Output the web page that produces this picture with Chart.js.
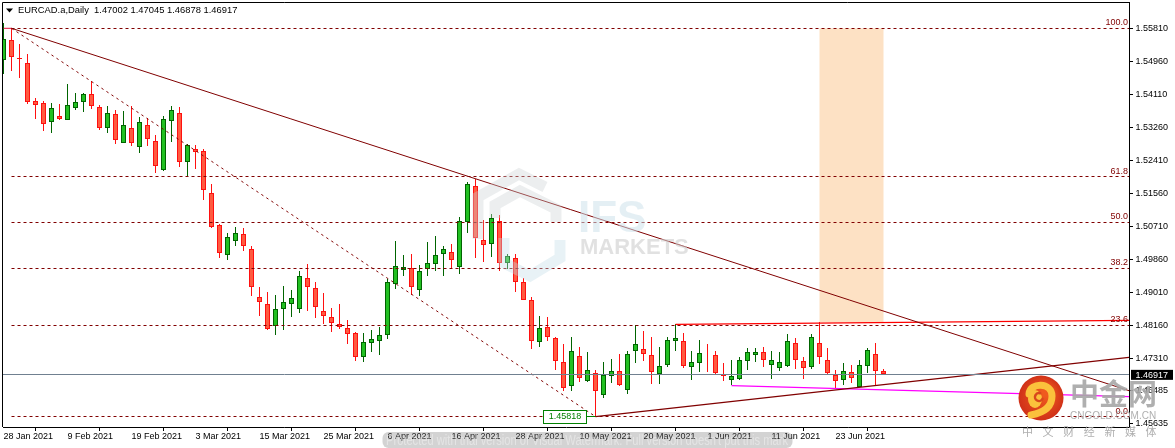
<!DOCTYPE html>
<html>
<head>
<meta charset="utf-8">
<title>EURCAD.a,Daily</title>
<script src="https://cdn.jsdelivr.net/npm/chart.js@4"></script>
<style>
    html, body { margin: 0; padding: 0; background: #fff; overflow: hidden; }
    canvas { display: block; }
</style>
</head>
<body>
<canvas id="myChart" width="1175" height="448"></canvas>
<script>
const opens = [
    1.54986, 1.55509, 1.55058, 1.54909, 1.53931, 1.53880, 1.53406, 1.53545, 1.53442, 1.53766,
    1.53905, 1.54111, 1.53777, 1.53252, 1.53596, 1.52850, 1.53236, 1.52747, 1.53313, 1.52902,
    1.52171, 1.53416, 1.53622, 1.52361, 1.52696, 1.52644, 1.51563, 1.50740, 1.49983, 1.50328,
    1.50508, 1.50122, 1.48887, 1.48707, 1.48141, 1.48578, 1.48707, 1.48578, 1.49376, 1.49119,
    1.48527, 1.48372, 1.48192, 1.48089, 1.47961, 1.47343, 1.47703, 1.47755, 1.47909, 1.49222,
    1.49582, 1.49633, 1.49067, 1.49608, 1.49736, 1.49994, 1.50045, 1.49675, 1.50817, 1.51744,
    1.50354, 1.50251, 1.50843, 1.49762, 1.49891, 1.49273, 1.48810, 1.47729, 1.48115, 1.47832,
    1.47214, 1.46597, 1.47369, 1.46725, 1.46931, 1.46365, 1.46854, 1.46983, 1.46494, 1.47497,
    1.47549, 1.47394, 1.46905, 1.47137, 1.47755, 1.47755, 1.47086, 1.47188, 1.47428, 1.47394,
    1.46880, 1.46751, 1.46777, 1.47240, 1.47394, 1.47472, 1.47137, 1.47060, 1.47111, 1.47703,
    1.47240, 1.47086, 1.47703, 1.47265, 1.46880, 1.46751, 1.46957, 1.46571, 1.47111, 1.47420,
    1.47002
];
const highs = [
    1.55946, 1.55805, 1.55406, 1.55148, 1.54016, 1.53939, 1.53887, 1.53862, 1.54376, 1.54145,
    1.54152, 1.54461, 1.53836, 1.53802, 1.53699, 1.53681, 1.53802, 1.53527, 1.53501, 1.53064,
    1.53545, 1.53802, 1.53784, 1.52824, 1.52806, 1.52696, 1.51803, 1.50761, 1.50542, 1.50696,
    1.50670, 1.50207, 1.49152, 1.49016, 1.48946, 1.49178, 1.49075, 1.49564, 1.49744, 1.49281,
    1.48998, 1.48612, 1.48715, 1.48303, 1.47986, 1.47968, 1.48045, 1.48123, 1.49350, 1.50336,
    1.49968, 1.50001, 1.49711, 1.50310, 1.50465, 1.50207, 1.50259, 1.50954, 1.51854, 1.51924,
    1.50876, 1.51031, 1.51005, 1.49994, 1.50001, 1.49376, 1.48895, 1.48406, 1.48380, 1.47865,
    1.47685, 1.47865, 1.47608, 1.47479, 1.47008, 1.47222, 1.47299, 1.47420, 1.47505, 1.48166,
    1.48012, 1.47865, 1.47600, 1.47865, 1.48192, 1.47968, 1.47497, 1.47788, 1.47677, 1.47505,
    1.47188, 1.47265, 1.47343, 1.47582, 1.47582, 1.47608, 1.47497, 1.47472, 1.47943, 1.47832,
    1.47343, 1.47943, 1.48244, 1.47574, 1.47008, 1.47188, 1.47137, 1.47265, 1.47574, 1.47711,
    1.47045
];
const lows = [
    1.54634, 1.54719, 1.54538, 1.53869, 1.53476, 1.53174, 1.53123, 1.53450, 1.53442, 1.53699,
    1.53656, 1.53741, 1.53200, 1.53123, 1.52840, 1.52850, 1.52788, 1.52608, 1.52788, 1.52094,
    1.52130, 1.52891, 1.52248, 1.52001, 1.52189, 1.51391, 1.50670, 1.49906, 1.49855, 1.50207,
    1.50079, 1.48928, 1.48414, 1.48053, 1.47925, 1.48053, 1.48388, 1.48491, 1.48542, 1.48362,
    1.48200, 1.48002, 1.48071, 1.47693, 1.47255, 1.47230, 1.47479, 1.47410, 1.47822, 1.49108,
    1.49435, 1.48938, 1.48928, 1.49435, 1.49571, 1.49435, 1.49633, 1.49494, 1.50542, 1.49906,
    1.49803, 1.49932, 1.49571, 1.49615, 1.49031, 1.48810, 1.47564, 1.47616, 1.47770, 1.47024,
    1.46468, 1.46483, 1.46700, 1.46700, 1.45818, 1.46288, 1.46674, 1.46597, 1.46406, 1.47204,
    1.47255, 1.46664, 1.46664, 1.47086, 1.47513, 1.47060, 1.46766, 1.46957, 1.46957, 1.46895,
    1.46725, 1.46622, 1.46751, 1.47008, 1.47222, 1.47086, 1.46777, 1.46982, 1.47086, 1.47034,
    1.46777, 1.47034, 1.47163, 1.46880, 1.46545, 1.46622, 1.46674, 1.46571, 1.46931, 1.46622,
    1.46878
];
const closes = [
    1.55527, 1.55079, 1.55027, 1.53921, 1.53844, 1.53355, 1.53759, 1.53483, 1.53828, 1.53905,
    1.54111, 1.53802, 1.53252, 1.53622, 1.52927, 1.53313, 1.52866, 1.53391, 1.52953, 1.52258,
    1.53468, 1.53699, 1.52361, 1.52799, 1.52634, 1.51641, 1.50688, 1.50019, 1.50431, 1.50534,
    1.50215, 1.49144, 1.48774, 1.48079, 1.48578, 1.48758, 1.48861, 1.49427, 1.49144, 1.48630,
    1.48398, 1.48218, 1.48115, 1.47935, 1.47343, 1.47729, 1.47806, 1.47909, 1.49273, 1.49685,
    1.49659, 1.49144, 1.49556, 1.49762, 1.49968, 1.50122, 1.49839, 1.50843, 1.51795, 1.50405,
    1.50225, 1.50920, 1.49762, 1.49942, 1.49273, 1.48810, 1.47755, 1.48089, 1.47858, 1.47240,
    1.46545, 1.47497, 1.46802, 1.47008, 1.46468, 1.46880, 1.46983, 1.46622, 1.47420, 1.47677,
    1.47420, 1.46957, 1.47111, 1.47780, 1.47832, 1.47111, 1.47214, 1.47446, 1.47420, 1.46931,
    1.46854, 1.46854, 1.47265, 1.47472, 1.47472, 1.47265, 1.47265, 1.47214, 1.47755, 1.47265,
    1.47060, 1.47858, 1.47343, 1.46931, 1.46725, 1.46983, 1.46802, 1.47137, 1.47523, 1.46983,
    1.46917
];

const xTickIndex = [0, 8, 16, 24, 32, 40, 48, 56, 64, 72, 80, 88, 96, 104];
const xTickLabels = ['28 Jan 2021', '9 Feb 2021', '19 Feb 2021', '3 Mar 2021', '15 Mar 2021', '25 Mar 2021', '6 Apr 2021',
    '16 Apr 2021', '28 Apr 2021', '10 May 2021', '20 May 2021', '1 Jun 2021', '11 Jun 2021', '23 Jun 2021'];
const yTicks = [1.5581, 1.5496, 1.5411, 1.5326, 1.5241, 1.5156, 1.5071, 1.4986, 1.4901, 1.4816, 1.4731, 1.46485, 1.45635];

const fibLevels = [1.5581, 1.51993, 1.50814, 1.49635, 1.48165, 1.45818];
const fibLabels = ['100.0', '61.8', '50.0', '38.2', '23.6', '0.0'];
const fibStartIndex = 1;

// the two ends of each drawn line, x is the bar number
const fallX = [1, 140.69];
const fallY = [1.5581, 1.46483];
const dashX = [1, 74];
const dashY = [1.5581, 1.45818];
const riseX = [74, 140.69];
const riseY = [1.45818, 1.47343];
const redX = [84, 140.69];
const redY = [1.48192, 1.48295];
const magentaX = [91, 140.69];
const magentaY = [1.46612, 1.46329];
const topX = [0, 1];
const topY = [1.5581, 1.5581];

const zoneX = [102, 110];
const zoneY = [1.5581, 1.4824];

const xMin = -0.0625;
const xMax = 140.6875;
const yMin = 1.45549;
const yMax = 1.56487;

const lastIndex = closes.length - 1;
const lastClose = closes[lastIndex];
const lowIndex = 74;
const lowValue = lows[lowIndex];
const titleText = 'EURCAD.a,Daily  1.47002 1.47045 1.46878 1.46917';

const smallFont = '9px "Liberation Sans", sans-serif';
const isUp = i => closes[i] >= opens[i];
const toPoints = (xs, ys) => xs.map((x, i) => ({ x: x, y: ys[i] }));

function lineSet(xs, ys, color, width, dash) {
    return {
        type: 'line',
        data: toPoints(xs, ys),
        borderColor: color,
        borderWidth: width,
        borderDash: dash || [],
        pointRadius: 0,
        tension: 0,
        fill: false,
        order: 1
    };
}

const fibSets = fibLevels.map(level => {
    const set = lineSet([fibStartIndex, xMax], [level, level], '#800000', 1, [3, 3]);
    set.snap = true;
    return set;
});
const priceSet = lineSet([xMin, xMax], [lastClose, lastClose], '#708090', 1);
priceSet.snap = true;

const bodySet = {
    data: opens.map((o, i) => ({ x: i, y: [Math.min(o, closes[i]), Math.max(o, closes[i])] })),
    backgroundColor: opens.map((o, i) => isUp(i) ? '#22c022' : '#ff5a40'),
    borderColor: opens.map((o, i) => isUp(i) ? '#006400' : '#ff1010'),
    borderWidth: 1,
    borderSkipped: false,
    inflateAmount: 0,
    grouped: false,
    barPercentage: 1,
    categoryPercentage: 1,
    maxBarThickness: 5,
    order: 2
};
const wickSet = {
    data: highs.map((h, i) => ({ x: i, y: [lows[i], h] })),
    backgroundColor: highs.map((h, i) => isUp(i) ? '#006400' : '#ff1010'),
    borderWidth: 0,
    inflateAmount: 0,
    grouped: false,
    barPercentage: 1,
    categoryPercentage: 1,
    maxBarThickness: 1,
    order: 3
};

// keeps candles and level lines on whole pixels so they stay sharp
const snapPlugin = {
    id: 'snap',
    afterDatasetsUpdate(chart) {
        chart.data.datasets.forEach((ds, idx) => {
            const meta = chart.getDatasetMeta(idx);
            if (ds.type !== 'line') {
                meta.data.forEach(el => {
                    el.y = Math.round(el.y);
                    el.base = Math.round(el.base);
                    el.height = el.base - el.y;
                });
            } else if (ds.snap) {
                meta.data.forEach(el => { el.y = Math.floor(el.y + 0.2) + 0.5; });
            }
        });
    }
};

const zonePlugin = {
    id: 'zone',
    beforeDatasetsDraw(chart) {
        const { ctx, scales: { x, y } } = chart;
        ctx.save();
        ctx.fillStyle = '#fde1c4';
        ctx.fillRect(x.getPixelForValue(zoneX[0]), y.getPixelForValue(zoneY[0]),
            x.getPixelForValue(zoneX[1]) - x.getPixelForValue(zoneX[0]),
            y.getPixelForValue(zoneY[1]) - y.getPixelForValue(zoneY[0]));
        ctx.restore();
    }
};

function drawFaintMark(ctx) {
    ctx.save();
    // hexagon mark of the broker
    ctx.lineJoin = 'miter';
    ctx.lineWidth = 11;
    ctx.strokeStyle = 'rgba(205,210,214,0.38)';
    ctx.beginPath();
    ctx.moveTo(545, 187); ctx.lineTo(519, 174); ctx.lineTo(478, 197); ctx.lineTo(478, 239);
    ctx.moveTo(495, 218); ctx.lineTo(495, 205); ctx.lineTo(520, 191); ctx.lineTo(556, 209); ctx.lineTo(556, 222);
    ctx.stroke();
    ctx.strokeStyle = 'rgba(195,220,232,0.38)';
    ctx.beginPath();
    ctx.moveTo(504, 238); ctx.lineTo(504, 263); ctx.lineTo(530, 276); ctx.lineTo(560, 258); ctx.lineTo(560, 240);
    ctx.stroke();
    ctx.textBaseline = 'alphabetic';
    ctx.textAlign = 'left';
    ctx.font = 'bold 44px "Liberation Sans", sans-serif';
    ctx.fillStyle = 'rgba(205,225,235,0.55)';
    ctx.fillText('IFS', 578, 232);
    ctx.font = 'bold 22px "Liberation Sans", sans-serif';
    ctx.fillStyle = 'rgba(205,205,205,0.6)';
    ctx.fillText('MARKETS', 580, 254);
    ctx.restore();
}

const overlayPlugin = {
    id: 'overlay',
    afterDatasetsDraw(chart) {
        const { ctx, scales: { x, y } } = chart;
        drawFaintMark(ctx);
        ctx.save();
        // level captions
        ctx.font = smallFont;
        ctx.fillStyle = '#800000';
        ctx.textAlign = 'right';
        ctx.textBaseline = 'middle';
        fibLevels.forEach((level, i) => {
            ctx.fillText(fibLabels[i], 1128, y.getPixelForValue(level) - 5.5);
        });
        // low label
        const lowX = x.getPixelForValue(lowIndex);
        const lowY = Math.floor(y.getPixelForValue(lowValue)) + 0.5;
        ctx.strokeStyle = '#008000';
        ctx.fillStyle = '#fff';
        ctx.lineWidth = 1;
        ctx.fillRect(543.5, lowY - 6, 43, 13);
        ctx.strokeRect(543.5, lowY - 6, 43, 13);
        ctx.beginPath();
        ctx.moveTo(586.5, lowY);
        ctx.lineTo(lowX, lowY);
        ctx.stroke();
        ctx.fillStyle = '#008000';
        ctx.textAlign = 'center';
        ctx.fillText(lowValue.toFixed(5), 565, lowY + 0.5);
        ctx.restore();
    },
    afterDraw(chart) {
        const { ctx, scales: { y } } = chart;
        ctx.save();
        // frame on the two sides the axes leave open
        ctx.strokeStyle = '#000';
        ctx.lineWidth = 1;
        ctx.beginPath();
        ctx.moveTo(2.5, 427);
        ctx.lineTo(2.5, 2.5);
        ctx.lineTo(1129.5, 2.5);
        ctx.stroke();
        // title
        ctx.fillStyle = '#000';
        ctx.beginPath();
        ctx.moveTo(6, 8.5); ctx.lineTo(13, 8.5); ctx.lineTo(9.5, 12.5);
        ctx.closePath();
        ctx.fill();
        ctx.font = '9.4px "Liberation Sans", sans-serif';
        ctx.textAlign = 'left';
        ctx.textBaseline = 'middle';
        ctx.fillText(titleText, 18, 10.5);
        // last price tag
        const tagY = y.getPixelForValue(lastClose);
        ctx.fillRect(1131, tagY - 4, 42, 10);
        ctx.fillStyle = '#fff';
        ctx.font = smallFont;
        ctx.fillText(lastClose.toFixed(5), 1135.5, tagY + 1.5);
        drawPill(ctx);
        drawLogo(ctx);
        ctx.restore();
    }
};

function drawPill(ctx) {
    ctx.save();
    ctx.fillStyle = 'rgba(110,110,110,0.3)';
    ctx.beginPath();
    ctx.roundRect(382.5, 432, 410, 16, 6);
    ctx.fill();
    ctx.font = '14px "Liberation Sans", sans-serif';
    ctx.fillStyle = 'rgba(255,255,255,0.4)';
    ctx.textAlign = 'left';
    ctx.textBaseline = 'middle';
    ctx.fillText('Protected with trial version of Visual Watermark. Full version doesn\'t put this mark', 386, 441, 402);
    ctx.restore();
}

function drawLogo(ctx) {
    ctx.save();
    const grad = ctx.createRadialGradient(1046, 392, 4, 1041, 398, 23);
    grad.addColorStop(0, '#ef5a1e');
    grad.addColorStop(1, '#cf2f18');
    ctx.fillStyle = grad;
    ctx.beginPath();
    ctx.arc(1041, 398, 22.5, 0, Math.PI * 2);
    ctx.fill();
    // the swirl
    ctx.lineCap = 'round';
    ctx.strokeStyle = '#fbc13c';
    ctx.lineWidth = 7;
    ctx.beginPath();
    ctx.moveTo(1029, 394);
    ctx.bezierCurveTo(1030, 382, 1052, 382, 1052, 396);
    ctx.bezierCurveTo(1052, 408, 1042, 413, 1031, 415);
    ctx.stroke();
    ctx.fillStyle = '#fbc13c';
    ctx.beginPath();
    ctx.ellipse(1035, 399, 7, 9, 0, 0, Math.PI * 2);
    ctx.fill();
    ctx.strokeStyle = '#d8481c';
    ctx.lineWidth = 2.5;
    ctx.beginPath();
    ctx.arc(1039, 397, 4, 0.5, Math.PI * 1.6);
    ctx.stroke();

    ctx.fillStyle = 'rgba(168,168,168,0.92)';
    ctx.textBaseline = 'middle';
    ctx.textAlign = 'left';
    ctx.font = 'bold 29px "Noto Sans CJK SC", sans-serif';
    ctx.fillText('中金网', 1070, 394);
    ctx.font = '10px "Liberation Sans", sans-serif';
    ctx.fillText('CNGOLD.COM.CN', 1070, 416, 89);
    ctx.font = '11px "Noto Sans CJK SC", sans-serif';
    ctx.fillStyle = 'rgba(170,170,170,0.95)';
    const slogan = '中文财经新媒体';
    for (let i = 0; i < slogan.length; i++) {
        ctx.fillText(slogan[i], 1022 + i * 20.6, 431.5);
    }
    ctx.restore();
}

new Chart(document.getElementById('myChart').getContext('2d'), {
    type: 'bar',
    data: {
        datasets: [
            priceSet,
            ...fibSets,
            lineSet(topX, topY, '#e0103a', 1),
            lineSet(fallX, fallY, '#800000', 1),
            lineSet(dashX, dashY, '#800000', 1, [2.5, 3.5]),
            lineSet(riseX, riseY, '#800000', 1.2),
            lineSet(redX, redY, '#ff0000', 1.2),
            lineSet(magentaX, magentaY, '#ff00ff', 1.2),
            bodySet,
            wickSet
        ]
    },
    options: {
        responsive: false,
        animation: false,
        devicePixelRatio: 1,
        layout: { padding: { left: 3, top: 2, right: 0, bottom: 0 } },
        plugins: {
            legend: { display: false },
            tooltip: { enabled: false },
            title: { display: false }
        },
        scales: {
            x: {
                type: 'linear',
                min: xMin,
                max: xMax,
                offset: false,
                afterBuildTicks: scale => { scale.ticks = xTickIndex.map(v => ({ value: v })); },
                afterFit: scale => { scale.height = 21; scale.paddingLeft = 0; scale.paddingRight = 0; },
                grid: { drawOnChartArea: false, drawTicks: true, tickLength: 4, color: '#000' },
                border: { color: '#000', width: 1 },
                ticks: {
                    autoSkip: false,
                    maxRotation: 0,
                    align: 'start',
                    padding: 0,
                    color: '#000',
                    font: { family: '"Liberation Sans", sans-serif', size: 9 },
                    callback: value => xTickLabels[xTickIndex.indexOf(value)]
                }
            },
            y: {
                type: 'linear',
                position: 'right',
                min: yMin,
                max: yMax,
                afterBuildTicks: scale => { scale.ticks = yTicks.map(v => ({ value: v })); },
                // the top label may overflow, the plot has to start right under the frame
                afterFit: scale => { scale.width = 46; scale.paddingTop = 0; scale.paddingBottom = 0; },
                grid: { drawOnChartArea: false, drawTicks: true, tickLength: 4, color: '#000' },
                border: { color: '#000', width: 1 },
                ticks: {
                    autoSkip: false,
                    padding: 2.5,
                    color: '#000',
                    font: { family: '"Liberation Sans", sans-serif', size: 9 },
                    callback: value => value.toFixed(5)
                }
            }
        }
    },
    plugins: [snapPlugin, zonePlugin, overlayPlugin]
});
</script>
</body>
</html>
